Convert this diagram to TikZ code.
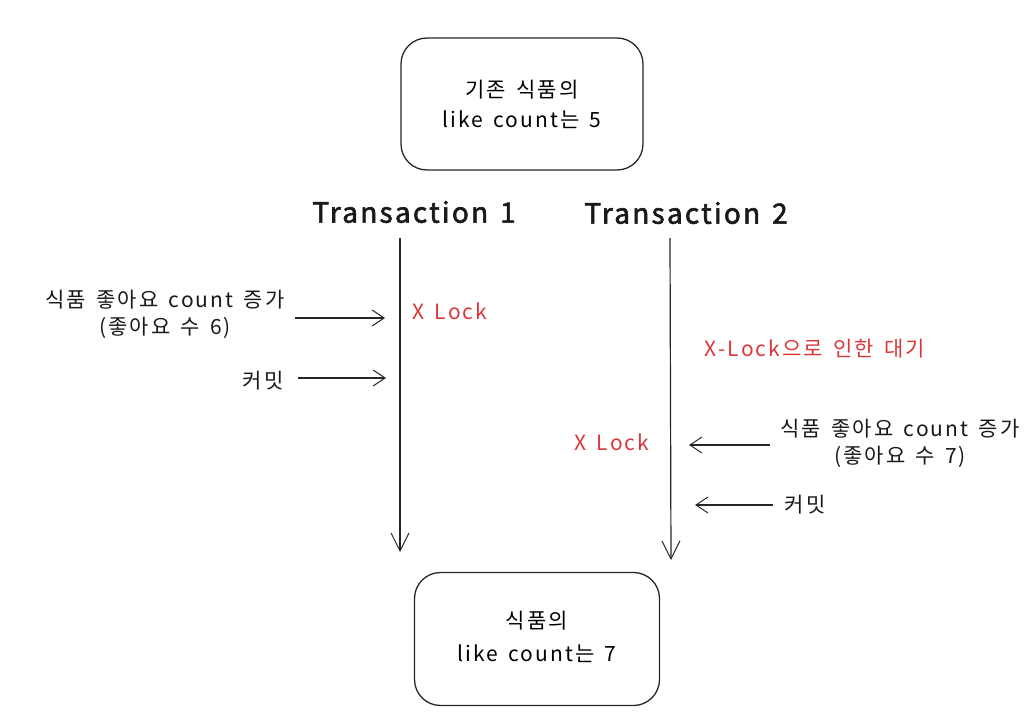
\documentclass[tikz,border=0pt]{standalone}
\usepackage{fontspec}
\setmainfont{Noto Sans CJK KR}
\newfontfamily\hand[LetterSpace=10,WordSpace=1.5]{Noto Sans CJK KR}
\newfontfamily\handtitle[LetterSpace=8,WordSpace=1.4,FakeBold=2]{Noto Sans CJK KR}
\usetikzlibrary{arrows.meta}
\definecolor{lockred}{HTML}{D9373A}
\tikzset{
  box/.style={draw=black!85, line width=1.3pt, rounded corners=26pt, minimum width=242pt, minimum height=132pt, align=center, font=\hand\fontsize{21}{30}\selectfont},
  lbl/.style={align=center, font=\hand\fontsize{21}{27}\selectfont, text=black!90},
  red/.style={font=\hand\fontsize{21}{24}\selectfont, text=lockred},
  title/.style={font=\handtitle\fontsize{28}{30}\selectfont, text=black!90},
  conn/.style={draw=black!85, line width=1.1pt, -{Straight Barb[length=12pt,width=16pt,line width=1pt]}},
  life/.style={draw=black!85, line width=1.2pt, -{Straight Barb[length=18pt,width=18pt,line width=1pt]}}
}
\begin{document}
\begin{tikzpicture}[x=1pt,y=-1pt]
\useasboundingbox (0,0) rectangle (1034,722);
\node[box] (top) at (522,104) {기존 식품의\\like count는 5};
\node[box, minimum width=245pt, minimum height=133pt, font=\hand\fontsize{21}{33}\selectfont, text depth=6pt] (bot) at (537,639) {식품의\\like count는 7};
\node[title] (t1) at (414,212) {Transaction 1};
\node[title] (t2) at (686,213) {Transaction 2};
\coordinate (l1s) at (400,238);
\coordinate (l1e) at (400,552);
\coordinate (l2s) at (670,238);
\coordinate (l2e) at (671,560);
\draw[life] (l1s) -- (l1e);
\draw[life] (l2s) -- (l2e);
\node[lbl] (a1) at (165,314) {식품 좋아요 count 증가\\(좋아요 수 6)};
\coordinate (a1s) at (295,318);
\coordinate (a1e) at (385,318);
\draw[conn] (a1s) -- (a1e);
\node[lbl] (c1) at (263,381) {커밋};
\coordinate (c1s) at (298,378);
\coordinate (c1e) at (386,378);
\draw[conn] (c1s) -- (c1e);
\node[red] (x1) at (450,311) {X Lock};
\node[red] (w) at (815,349) {X-Lock으로 인한 대기};
\node[red] (x2) at (612,442) {X Lock};
\node[lbl] (a2) at (900,443) {식품 좋아요 count 증가\\(좋아요 수 7)};
\coordinate (a2s) at (770,445);
\coordinate (a2e) at (689,445);
\draw[conn] (a2s) -- (a2e);
\node[lbl] (c2) at (805,505) {커밋};
\coordinate (c2s) at (773,505);
\coordinate (c2e) at (695,505);
\draw[conn] (c2s) -- (c2e);
\end{tikzpicture}
\end{document}
